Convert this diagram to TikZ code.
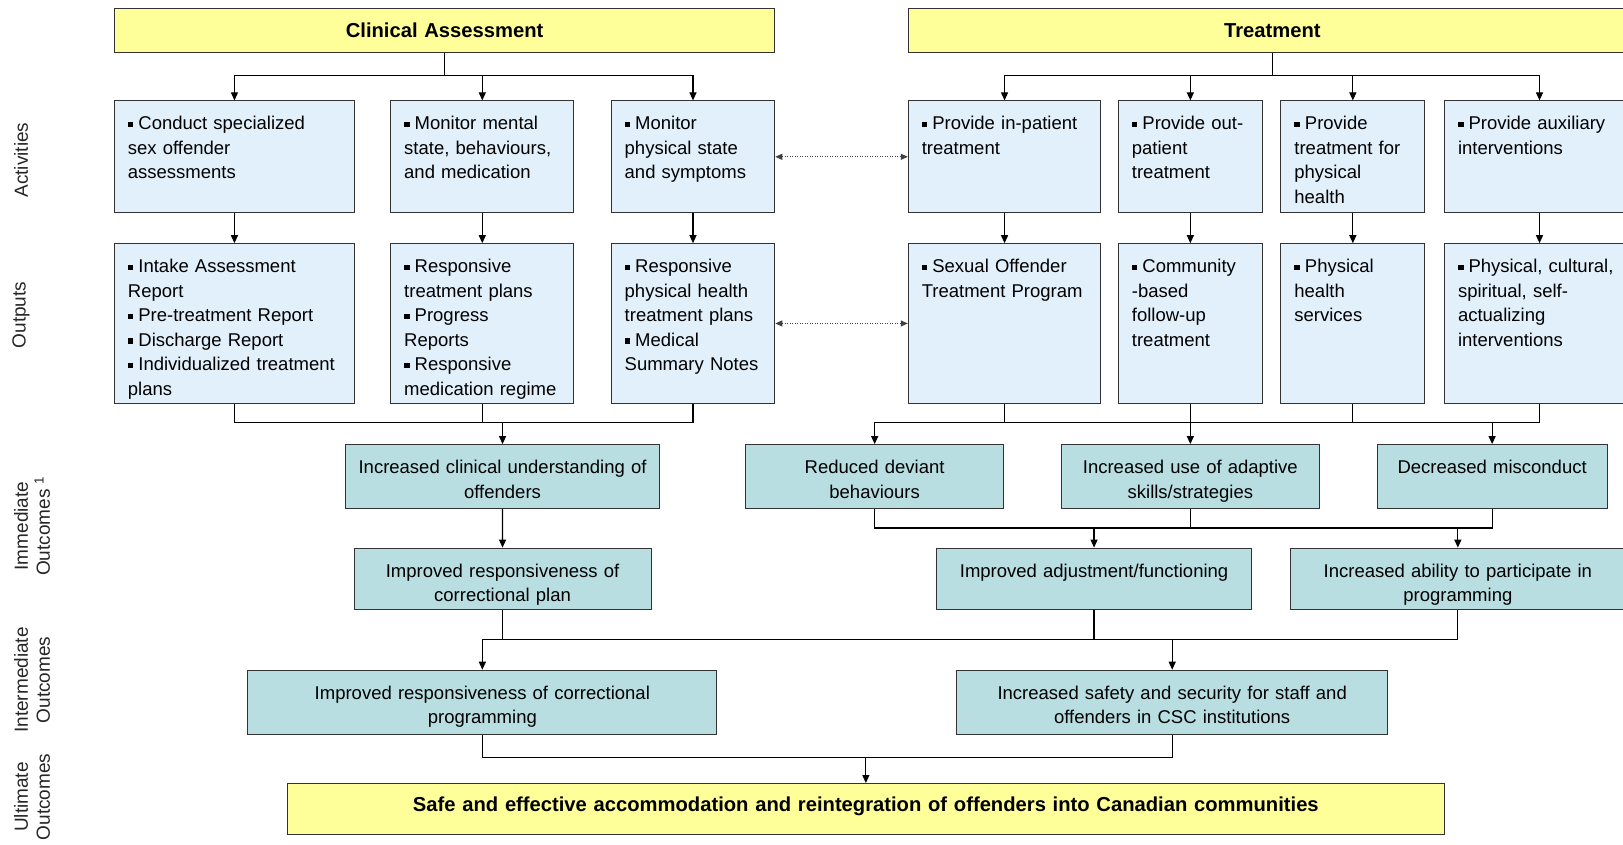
\documentclass[tikz,border=0pt]{standalone}
\usepackage{fontspec}
\setmainfont{Liberation Sans}
\usepackage{xcolor}
\usepackage{tikz}
\usetikzlibrary{arrows.meta}

\definecolor{kuning}{HTML}{FFFF99}
\definecolor{biru}{HTML}{E1F0FB}
\definecolor{hijau}{HTML}{B8DEE2}
\newcommand{\butir}{\rule[2.5pt]{5.5pt}{5.5pt}\hspace{5pt}}

\begin{document}
\begin{tikzpicture}[x=1pt, y=-1pt,
    font=\fontsize{18.5}{24.5}\selectfont,
    kotak/.style={draw=black!80, line width=1pt, anchor=north west,
                  inner xsep=13.5pt, inner ysep=10pt, text height=19pt},
    judul/.style={kotak, fill=kuning, align=center, text height=18.7pt,
                  text depth=4.8pt, font=\fontsize{20.2}{24}\selectfont\bfseries},
    rencana/.style={kotak, fill=biru, align=left, text depth=#1},
    hasil/.style={kotak, fill=hijau, align=center, inner xsep=8pt, text depth=#1},
    sisi/.style={rotate=90, align=center, font=\fontsize{19}{22}\selectfont, text=black!85},
    panah/.style={-{Triangle[length=8pt, width=7pt]}, line width=1.2pt},
    garis/.style={line width=1.2pt},
    titik/.style={{Triangle[length=7pt, width=6pt]}-{Triangle[length=7pt, width=6pt]},
                  line width=1pt, black!75, dash pattern=on 1pt off 1.5pt}
  ]
    \path[use as bounding box, fill=white] (0,0) rectangle (1623,845);
    \clip (0,0) rectangle (1623,845);

    % kepala
    \node[judul, text width=633.4pt] (klinis) at (113.9,8.3) {Clinical Assessment};
    \node[judul, text width=701.2pt] (perawatan) at (907.8,8.3) {Treatment};

    % aktivitas
    \node[rencana=72.8pt, text width=213.1pt] (asesmen) at (113.9,100.4)
      {\butir Conduct specialized\\sex offender\\assessments};
    \node[rencana=72.8pt, text width=156.2pt] (mental) at (390.2,100.4)
      {\butir Monitor mental\\state, behaviours,\\and medication};
    \node[rencana=72.8pt, text width=136.6pt] (fisik) at (610.7,100.4)
      {\butir Monitor\\physical state\\and symptoms};
    \node[rencana=72.8pt, text width=165.5pt] (inap) at (907.8,100.4)
      {\butir Provide in-patient\\treatment};
    \node[rencana=72.8pt, text width=116.9pt] (jalan) at (1117.9,100.4)
      {\butir Provide out-\\patient\\treatment};
    \node[rencana=72.8pt, text width=116.9pt] (badan) at (1280.4,100.4)
      {\butir Provide\\treatment for\\physical\\health};
    \node[rencana=72.8pt, text width=163pt] (tambahan) at (1444,100.4)
      {\butir Provide auxiliary\\interventions};

    % keluaran
    \node[rencana=120.5pt, text width=213.1pt] (laporan) at (113.9,243.2)
      {\butir Intake Assessment\\Report\\\butir Pre-treatment Report\\\butir Discharge Report\\\butir Individualized treatment\\plans};
    \node[rencana=120.5pt, text width=156.2pt] (rmental) at (390.2,243.2)
      {\butir Responsive\\treatment plans\\\butir Progress\\Reports\\\butir Responsive\\medication regime};
    \node[rencana=120.5pt, text width=136.6pt] (rfisik) at (610.7,243.2)
      {\butir Responsive\\physical health\\treatment plans\\\butir Medical\\Summary Notes};
    \node[rencana=120.5pt, text width=165.5pt] (program) at (907.8,243.2)
      {\butir Sexual Offender\\Treatment Program};
    \node[rencana=120.5pt, text width=116.9pt] (lanjutan) at (1117.9,243.2)
      {\butir Community\\-based\\follow-up\\treatment};
    \node[rencana=120.5pt, text width=116.9pt] (layanan) at (1280.4,243.2)
      {\butir Physical\\health\\services};
    \node[rencana=120.5pt, text width=163pt] (intervensi) at (1444,243.2)
      {\butir Physical, cultural,\\spiritual, self-\\actualizing\\interventions};

    % hasil langsung
    \node[hasil=25.1pt, text width=298.7pt] (paham) at (344.7,444.1)
      {Increased clinical understanding of\\offenders};
    \node[hasil=25.1pt, text width=241.7pt] (deviant) at (745.3,444.1)
      {Reduced deviant\\behaviours};
    \node[hasil=25.1pt, text width=241.7pt] (adaptif) at (1061,444.1)
      {Increased use of adaptive\\skills/strategies};
    \node[hasil=25.1pt, text width=213.8pt] (misconduct) at (1376.7,444.1)
      {Decreased misconduct};
    \node[hasil=22pt, text width=281.1pt] (rkoreksi) at (353.5,547.6)
      {Improved responsiveness of\\correctional plan};
    \node[hasil=22pt, text width=299.7pt] (adjust) at (935.7,547.6)
      {Improved adjustment/functioning};
    \node[hasil=22pt, text width=319.3pt] (ability) at (1289.7,547.6)
      {Increased ability to participate in\\programming};

    % hasil antara
    \node[hasil=25.2pt, text width=452.9pt] (pkoreksi) at (247.4,669.7)
      {Improved responsiveness of correctional\\programming};
    \node[hasil=25.2pt, text width=414.6pt] (aman) at (956.4,669.7)
      {Increased safety and security for staff and\\offenders in CSC institutions};

    % hasil akhir
    \node[judul, text width=1130.3pt, text height=18pt, text depth=13pt] (tujuan) at (286.7,783)
      {Safe and effective accommodation and reintegration of offenders into Canadian communities};

    % label samping
    \node[sisi] (lblakt) at (21,160) {Activities};
    \node[sisi] (lblout) at (21,315) {Outputs};
    \node[sisi] (lblim) at (32,526) {Immediate\\Outcomes \textsuperscript{1}};
    \node[sisi] (lblint) at (32,680) {Intermediate\\Outcomes};
    \node[sisi] (lblult) at (32,797) {Ultimate\\Outcomes};

    % tingkat percabangan
    \coordinate (cabang) at (0,75.6);
    \coordinate (kumpul) at (0,422.3);
    \coordinate (kumpul2) at (0,527.9);
    \coordinate (kumpul3) at (0,639.7);
    \coordinate (kumpul4) at (0,757.7);

    \foreach \n in {asesmen, mental, fisik}
      \draw[panah] (klinis) -- (klinis |- cabang) -| (\n);
    \foreach \n in {inap, jalan, badan, tambahan}
      \draw[panah] (perawatan) -- (perawatan |- cabang) -| (\n);
    \foreach \a/\b in {asesmen/laporan, mental/rmental, fisik/rfisik, inap/program,
                       jalan/lanjutan, badan/layanan, tambahan/intervensi}
      \draw[panah] (\a) -- (\b);
    \draw[titik] (fisik) -- (inap);
    \draw[titik] (rfisik) -- (program);

    % ke hasil langsung
    \draw[garis] (laporan) -- (laporan |- kumpul) -- (rfisik |- kumpul) -- (rfisik);
    \draw[garis] (rmental) -- (rmental |- kumpul);
    \draw[panah] (paham |- kumpul) -- (paham);
    \draw[garis] (deviant |- kumpul) -- (intervensi |- kumpul) -- (intervensi);
    \foreach \n in {program, lanjutan, layanan}
      \draw[garis] (\n) -- (\n |- kumpul);
    \foreach \n in {deviant, adaptif, misconduct}
      \draw[panah] (\n |- kumpul) -- (\n);

    \draw[panah] (paham) -- (rkoreksi);
    \draw[garis] (deviant) -- (deviant |- kumpul2) -- (misconduct |- kumpul2) -- (misconduct);
    \draw[garis] (adaptif) -- (adaptif |- kumpul2);
    \draw[panah] (adjust |- kumpul2) -- (adjust);
    \draw[panah] (ability |- kumpul2) -- (ability);

    % ke hasil antara
    \draw[garis] (rkoreksi) -- (rkoreksi |- kumpul3);
    \draw[garis] (adjust) -- (adjust |- kumpul3);
    \draw[garis] (pkoreksi |- kumpul3) -- (ability |- kumpul3) -- (ability);
    \draw[panah] (pkoreksi |- kumpul3) -- (pkoreksi);
    \draw[panah] (aman |- kumpul3) -- (aman);

    % ke hasil akhir
    \draw[garis] (pkoreksi) -- (pkoreksi |- kumpul4) -- (aman |- kumpul4) -- (aman);
    \draw[panah] (tujuan |- kumpul4) -- (tujuan);
  \end{tikzpicture}
\end{document}
